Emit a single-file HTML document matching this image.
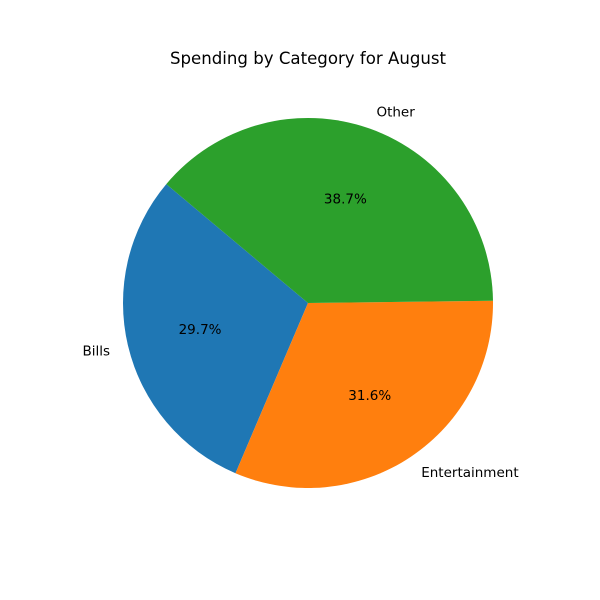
<!DOCTYPE html>
<html><head><meta charset="utf-8"><style>
body{margin:0;background:#fff;}
svg{display:block;font-family:"DejaVu Sans","Liberation Sans",sans-serif;}
</style></head><body>
<svg id="chart" width="600" height="600" viewBox="0 0 600 600">
<rect width="600" height="600" fill="#fff"/>
<text x="308" y="64" font-size="16.6" text-anchor="middle">Spending by Category for August</text>
<g id="slices"></g>
</svg>
<script>
const categories = ["Bills", "Entertainment", "Other"];
const values = [29.7, 31.6, 38.7];
const colors = ["#1f77b4", "#ff7f0e", "#2ca02c"];
const startAngle = 140;
const cx = 308, cy = 303, r = 185;
const g = document.getElementById('slices');
const ns = "http://www.w3.org/2000/svg";
const total = values.reduce((a,b)=>a+b,0);
function pt(deg, rad){const a=deg*Math.PI/180;return [cx+rad*Math.cos(a), cy-rad*Math.sin(a)];}
let ang = startAngle;
values.forEach((v,i)=>{
  const sweep = v/total*360;
  const a0 = ang, a1 = ang+sweep;
  const p0 = pt(a0,r), p1 = pt(a1,r);
  const large = sweep>180?1:0;
  const path = document.createElementNS(ns,'path');
  path.setAttribute('d',`M${cx},${cy} L${p0[0]},${p0[1]} A${r},${r} 0 ${large} 0 ${p1[0]},${p1[1]} Z`);
  path.setAttribute('fill',colors[i]);
  
  
  g.appendChild(path);
  const mid = (a0+a1)/2;
  const lp = pt(mid, r*1.1);
  const c = Math.cos(mid*Math.PI/180);
  const lab = document.createElementNS(ns,'text');
  lab.setAttribute('x',lp[0]); lab.setAttribute('y',lp[1]+5);
  lab.setAttribute('font-size','13.5');
  lab.setAttribute('text-anchor', c<0?'end':'start');
  lab.textContent = categories[i];
  
  
  g.appendChild(lab);
  const pp = pt(mid, r*0.6);
  const pct = document.createElementNS(ns,'text');
  pct.setAttribute('x',pp[0]); pct.setAttribute('y',pp[1]+5);
  pct.setAttribute('font-size','13.5');
  pct.setAttribute('text-anchor','middle');
  pct.textContent = (v/total*100).toFixed(1)+'%';
  
  
  g.appendChild(pct);
  ang = a1;
});
</script>
</body></html>
